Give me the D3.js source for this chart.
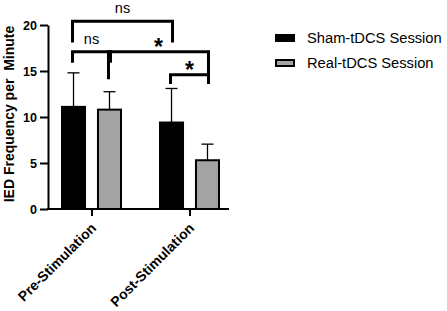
<!doctype html>
<html>
<head>
<meta charset="utf-8">
<script src="https://d3js.org/d3.v7.min.js"></script>
<style>
  body { margin: 0; padding: 0; background: #fff; }
  svg { font-family: "Liberation Sans", Arial, sans-serif; }
</style>
</head>
<body>
<script>
// categories and series
const categories = ["Pre-Stimulation", "Post-Stimulation"];
const seriesNames = ["Sham-tDCS Session", "Real-tDCS Session"];
const shamMeans = [11.1, 9.4];
const shamErrors = [3.7, 3.7];
const realMeans = [10.8, 5.3];
const realErrors = [1.95, 1.75];
const yTicks = [0, 5, 10, 15, 20];

// significance brackets: [category index, series index] pairs
const brackets = [
  { a: [0, 0], b: [1, 0], top: 20.4, legA: 18.1, legB: 18.1, label: "ns" },
  { a: [0, 0], b: [0, 1], top: 17.1, legA: 15.9, legB: 15.9, label: "ns" },
  { a: [0, 1], b: [1, 1], top: 17.1, legA: 14.1, legB: 13.6, label: "*" },
  { a: [1, 0], b: [1, 1], top: 14.6, legA: 13.6, legB: 13.6, label: "*" }
];

const width = 447, height = 311;
const svg = d3.select("body").append("svg")
  .attr("width", width)
  .attr("height", height);

const y = d3.scaleLinear().domain([0, 20]).range([209, 25]);
const x = d3.scaleBand().domain(categories).range([43, 239]);
const xs = d3.scaleBand().domain(seriesNames).range([19, 78]).paddingInner(0.36);
const colors = d3.scaleOrdinal().domain(seriesNames).range(["#000000", "#a3a3a3"]);

const rows = [];
categories.forEach((c, i) => {
  rows.push({ cat: c, s: seriesNames[0], v: shamMeans[i], e: shamErrors[i] });
  rows.push({ cat: c, s: seriesNames[1], v: realMeans[i], e: realErrors[i] });
});
const cx = (ci, si) => x(categories[ci]) + xs(seriesNames[si]) + xs.bandwidth() / 2;

// error bars (upper only)
const eb = svg.append("g").attr("stroke", "#000").attr("stroke-width", 1.3);
rows.forEach(d => {
  const mx = x(d.cat) + xs(d.s) + xs.bandwidth() / 2;
  eb.append("line").attr("x1", mx).attr("x2", mx).attr("y1", y(d.v)).attr("y2", y(d.v + d.e));
  eb.append("line").attr("x1", mx - 6).attr("x2", mx + 6).attr("y1", y(d.v + d.e)).attr("y2", y(d.v + d.e));
});

// bars
svg.append("g").selectAll("rect")
  .data(rows)
  .join("rect")
  .attr("x", d => x(d.cat) + xs(d.s))
  .attr("y", d => y(d.v))
  .attr("width", xs.bandwidth())
  .attr("height", d => y(0) - y(d.v))
  .attr("fill", d => colors(d.s))
  .attr("stroke", "#000")
  .attr("stroke-width", 2);

// y axis
const yAxis = svg.append("g")
  .attr("transform", "translate(48,0)")
  .call(d3.axisLeft(y).tickValues(yTicks).tickSize(8).tickSizeOuter(0));
yAxis.select(".domain").attr("stroke-width", 2);
yAxis.selectAll(".tick line").attr("stroke-width", 2);
yAxis.selectAll(".tick text")
  .attr("x", -11)
  .attr("font-size", 12.5)
  .attr("font-weight", "bold")
  .attr("font-family", "Liberation Sans, Arial, sans-serif")
  .attr("fill", "#000");

// x axis
const xAxis = svg.append("g")
  .attr("transform", "translate(0,209)")
  .call(d3.axisBottom(x).tickSize(7).tickSizeOuter(0));
xAxis.select(".domain").remove();
xAxis.append("line").attr("x1", 47).attr("x2", 229).attr("stroke", "#000").attr("stroke-width", 2);
xAxis.selectAll(".tick line").attr("stroke-width", 2);
xAxis.selectAll(".tick text")
  .attr("font-size", 14)
  .attr("font-weight", "bold")
  .attr("font-family", "Liberation Sans, Arial, sans-serif")
  .attr("fill", "#000")
  .attr("text-anchor", "end")
  .attr("y", 0)
  .attr("dy", 0)
  .attr("transform", "translate(5,20) rotate(-45)");

// y axis title
svg.append("text")
  .attr("transform", "translate(14,114) rotate(-90)")
  .attr("text-anchor", "middle")
  .attr("font-size", 14)
  .attr("font-weight", "bold")
  .attr("xml:space", "preserve")
  .style("white-space", "pre")
  .text("IED Frequency per  Minute");

// significance brackets
const bg = svg.append("g");
brackets.forEach(b => {
  const x1 = cx(b.a[0], b.a[1]) - 1, x2 = cx(b.b[0], b.b[1]) + 1;
  bg.append("path")
    .attr("d", `M${x1},${y(b.legA)}V${y(b.top)}H${x2}V${y(b.legB)}`)
    .attr("fill", "none")
    .attr("stroke", "#000")
    .attr("stroke-width", 3);
  const isStar = b.label === "*";
  bg.append("text")
    .attr("x", (x1 + x2) / 2)
    .attr("y", y(b.top) - (isStar ? -3 : 8))
    .attr("text-anchor", "middle")
    .attr("font-size", isStar ? 23 : 14.5)
    .attr("font-weight", isStar ? "bold" : "normal")
    .text(b.label);
});

// legend
const lg = svg.append("g").attr("transform", "translate(275,38)");
seriesNames.forEach((s, i) => {
  const row = lg.append("g").attr("transform", `translate(0,${i * 25})`);
  row.append("rect")
    .attr("x", 1).attr("y", -3).attr("width", 18).attr("height", 6)
    .attr("fill", colors(s)).attr("stroke", "#000").attr("stroke-width", 2);
  row.append("text")
    .attr("x", 32).attr("y", 0).attr("dy", "0.36em")
    .attr("font-size", 14.7)
    .text(s);
});
</script>
</body>
</html>
